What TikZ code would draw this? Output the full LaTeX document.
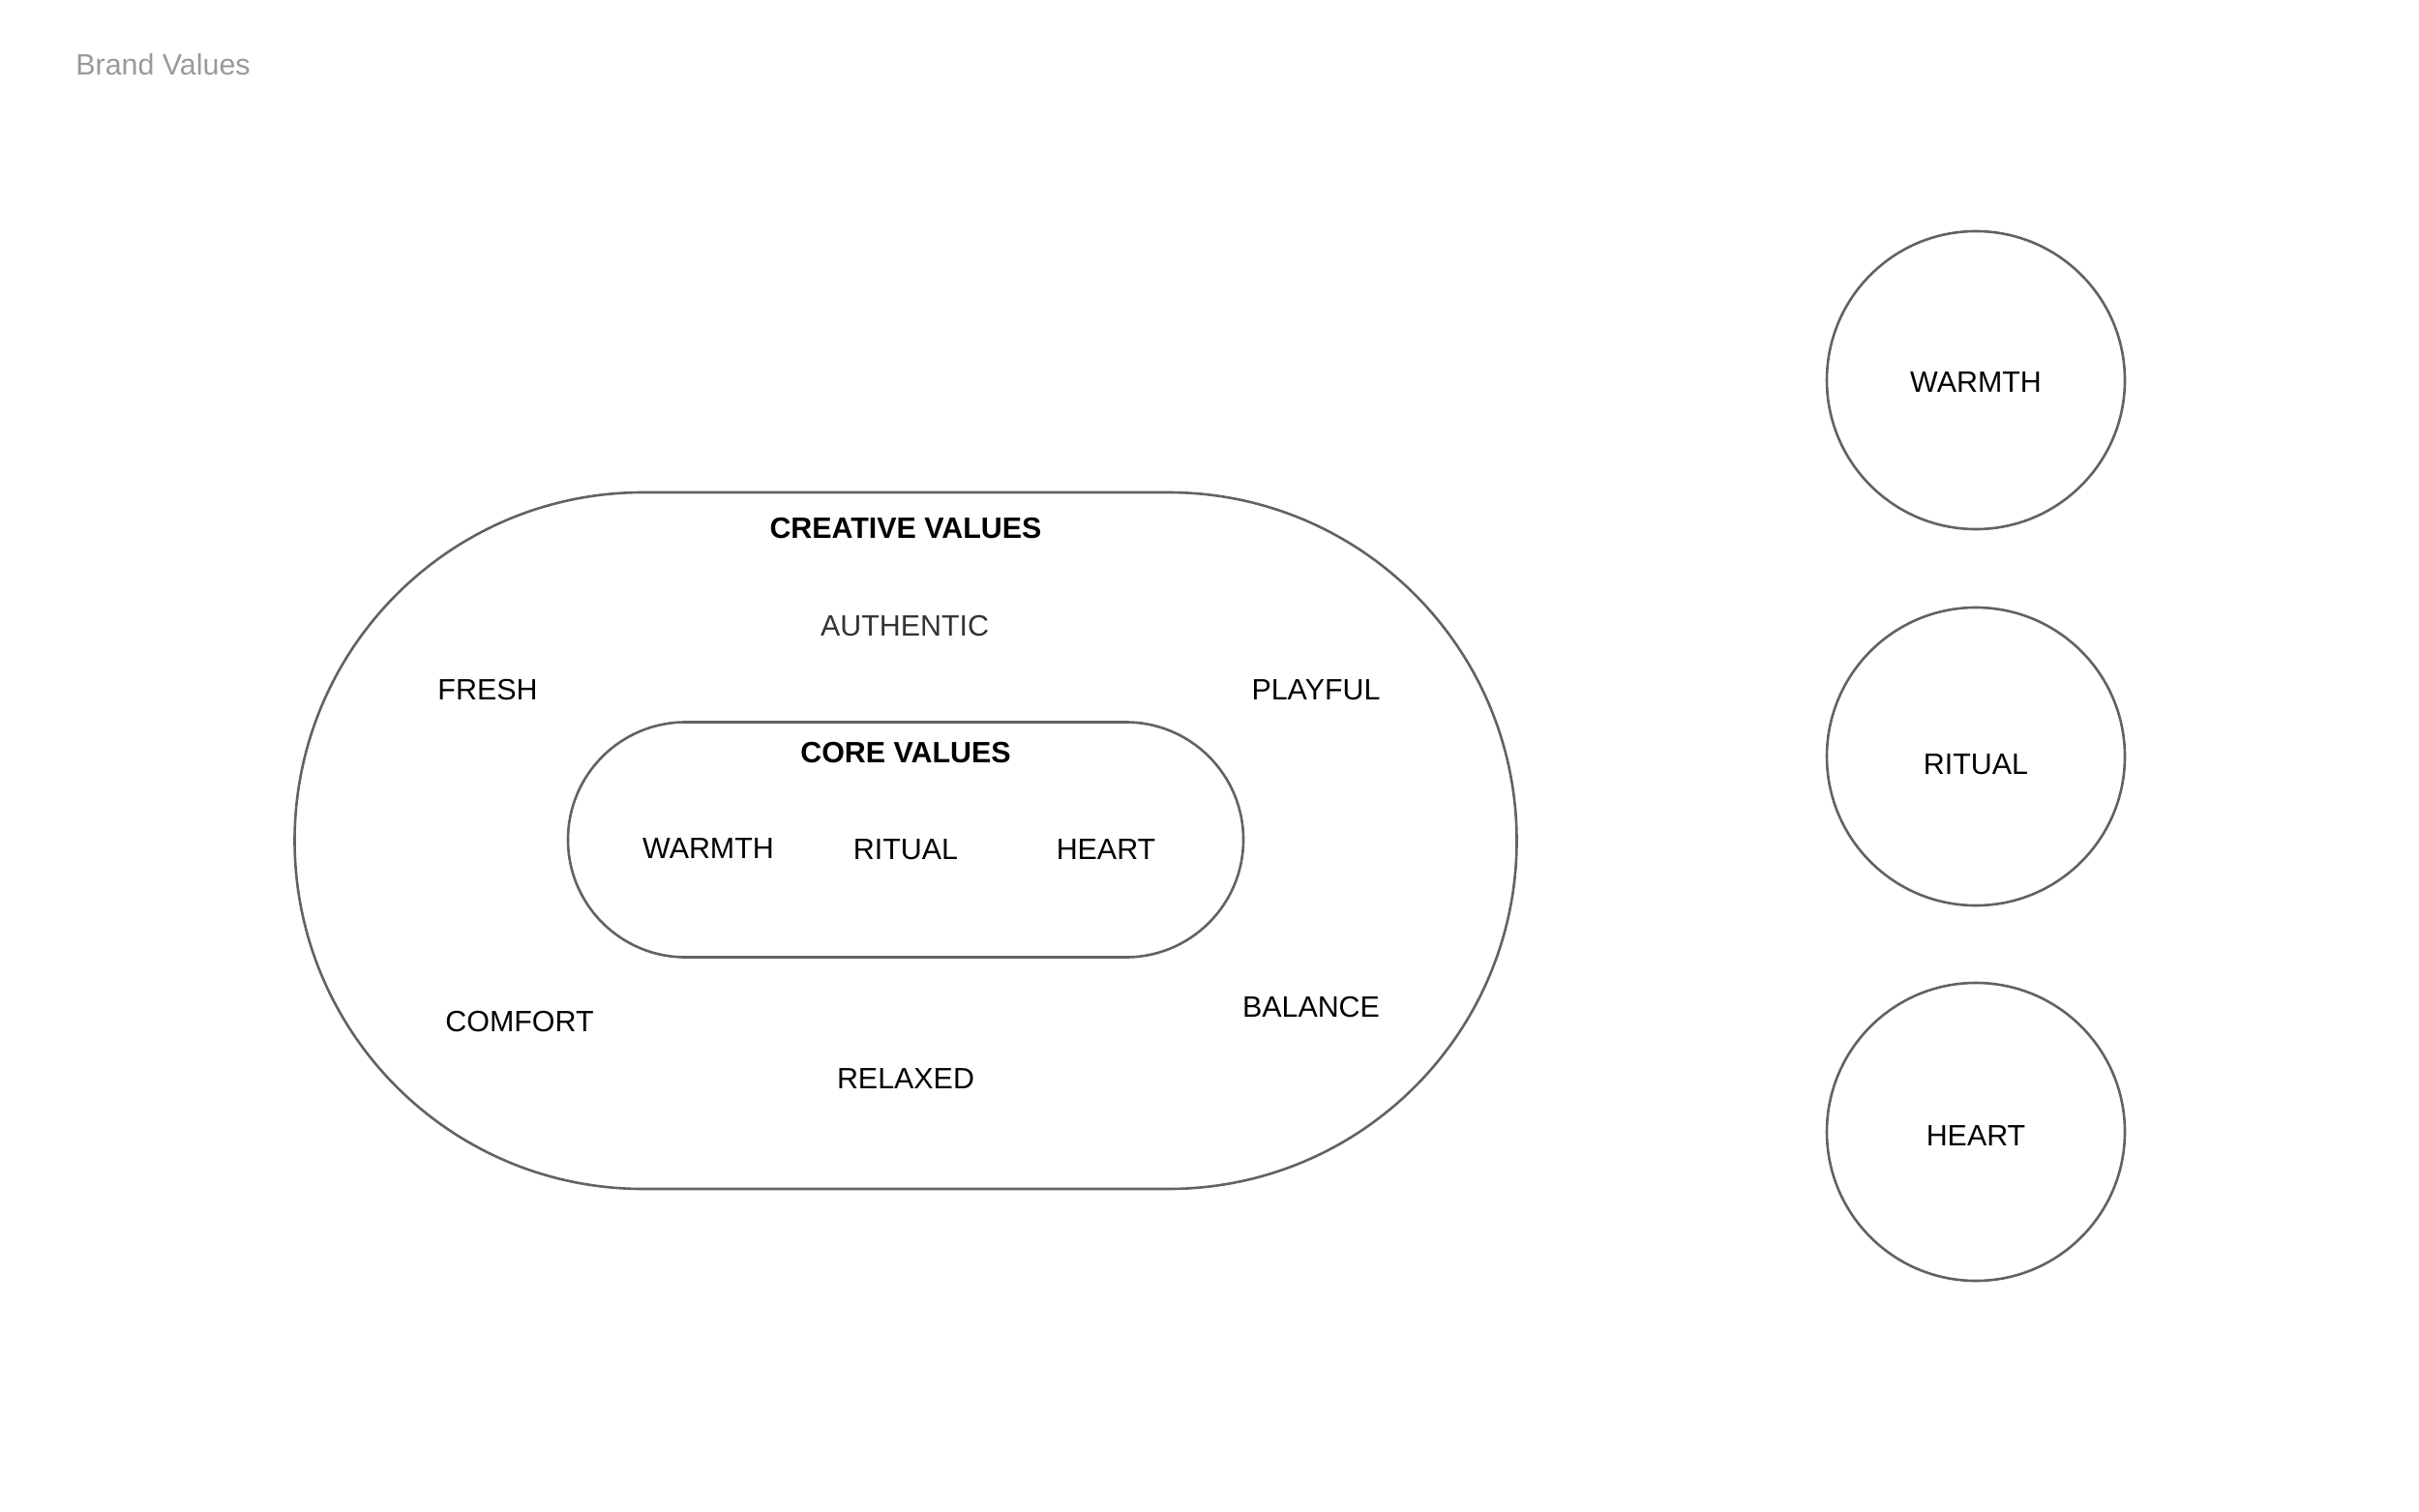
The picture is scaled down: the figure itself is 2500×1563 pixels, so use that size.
\documentclass[tikz,border=0pt]{standalone}
\usepackage{fontspec}
\setmainfont{Liberation Sans}
\definecolor{linegray}{HTML}{626262}
\definecolor{titlegray}{HTML}{999999}
\definecolor{softblack}{HTML}{333333}
\begin{document}
\begin{tikzpicture}[x=0.5pt,y=-0.5pt,
  lbl/.style={font=\fontsize{15.2pt}{18pt}\selectfont, text height=0.716em, text depth=0pt, inner sep=0pt},
  hdr/.style={lbl, font=\fontsize{15.2pt}{18pt}\selectfont\bfseries},
  ring/.style={draw=linegray, line width=1.3pt, inner sep=0pt},
  bubble/.style={ring, circle, minimum size=154pt}]
\useasboundingbox (0,0) rectangle (2500,1563);
% outer stadium
\node[ring, rectangle, rounded corners=180pt, minimum width=631.5pt, minimum height=360pt] (outer) at (936,869) {};
% inner stadium
\node[ring, rectangle, rounded corners=60.75pt, minimum width=349pt, minimum height=121.5pt] (inner) at (936,868) {};
% title
\node[lbl, anchor=west, text=titlegray] (title) at (78,70) {Brand Values};
% creative values
\node[hdr] (creative) at (936,549) {CREATIVE VALUES};
\node[lbl, text=softblack] (authentic) at (935,650) {AUTHENTIC};
\node[lbl] (fresh) at (504,716) {FRESH};
\node[lbl] (playful) at (1360,716) {PLAYFUL};
\node[lbl] (comfort) at (537,1059) {COMFORT};
\node[lbl] (balance) at (1355,1044) {BALANCE};
\node[lbl] (relaxed) at (936,1118) {RELAXED};
% core values
\node[hdr] (core) at (936,781) {CORE VALUES};
\node[lbl] (cwarmth) at (732,880) {WARMTH};
\node[lbl] (critual) at (936,881) {RITUAL};
\node[lbl] (cheart) at (1143,881) {HEART};
% circles
\node[bubble] (bwarmth) at (2042,393) {};
\node[lbl] (twarmth) at (2042,398) {WARMTH};
\node[bubble] (britual) at (2042,782) {};
\node[lbl] (tritual) at (2042,793) {RITUAL};
\node[bubble] (bheart) at (2042,1170) {};
\node[lbl] (theart) at (2042,1177) {HEART};
\end{tikzpicture}
\end{document}
